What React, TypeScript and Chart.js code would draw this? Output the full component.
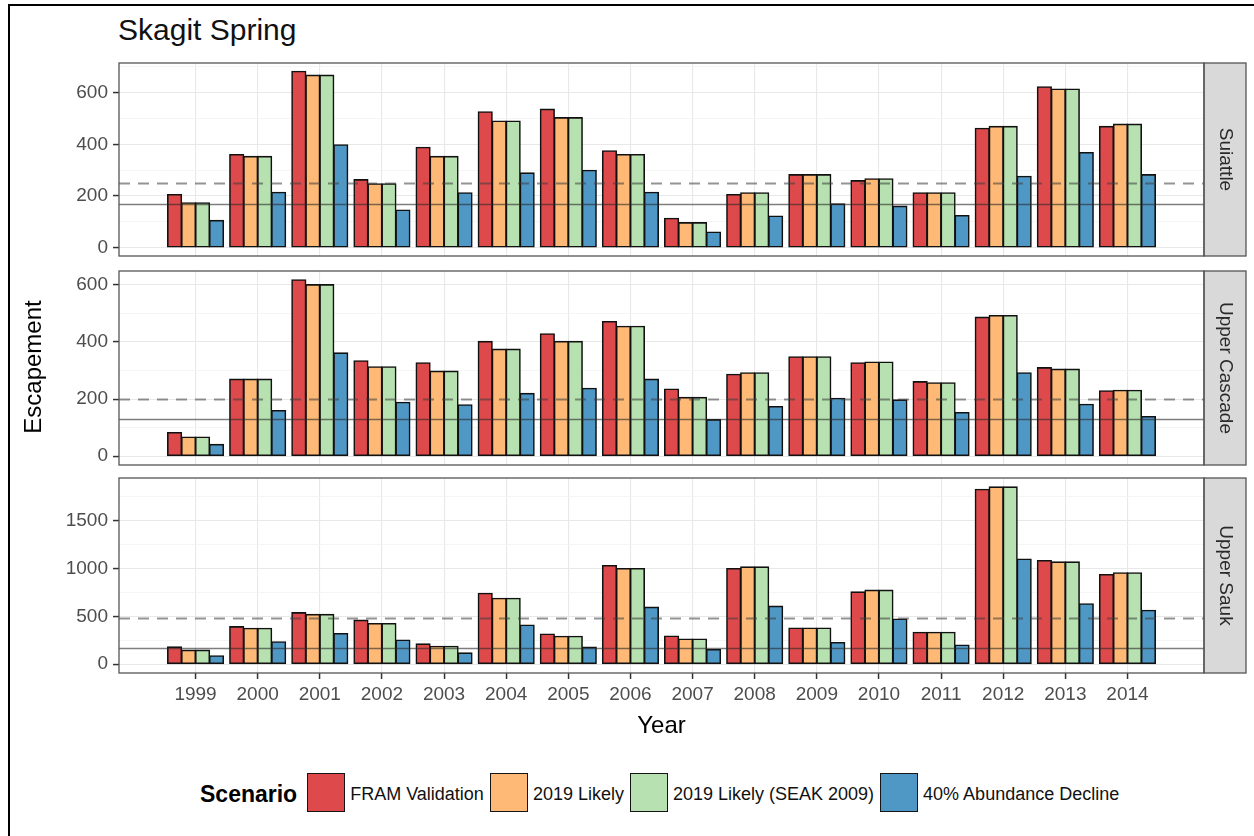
import React, { useEffect, useRef } from 'react';
import { Chart, registerables } from 'chart.js';

Chart.register(...registerables);

const YEARS = [1999, 2000, 2001, 2002, 2003, 2004, 2005, 2006, 2007, 2008, 2009, 2010, 2011, 2012, 2013, 2014];
const SCENARIOS = ['FRAM Validation', '2019 Likely', '2019 Likely (SEAK 2009)', '40% Abundance Decline'];
const COLORS = ['#de4a4c', '#fdb975', '#b7e1b0', '#4f98c6'];
const PANELS = ['Suiattle', 'Upper Cascade', 'Upper Sauk'];

const SUIATTLE_FRAM = [205, 360, 683, 263, 388, 526, 536, 375, 113, 205, 282, 259, 212, 462, 623, 469];
const SUIATTLE_LIKELY = [173, 353, 668, 247, 353, 490, 503, 360, 96, 212, 282, 266, 212, 469, 614, 478];
const SUIATTLE_SEAK = [173, 353, 668, 247, 353, 490, 503, 360, 96, 212, 282, 266, 212, 469, 614, 478];
const SUIATTLE_DECLINE = [105, 214, 398, 145, 212, 289, 299, 214, 60, 122, 169, 160, 124, 276, 368, 282];

const CASCADE_FRAM = [83, 270, 618, 334, 327, 402, 429, 472, 235, 287, 348, 327, 261, 487, 310, 229];
const CASCADE_LIKELY = [67, 270, 601, 313, 298, 375, 402, 455, 206, 292, 348, 330, 257, 493, 305, 231];
const CASCADE_SEAK = [67, 270, 601, 313, 298, 375, 402, 455, 206, 292, 348, 330, 257, 493, 305, 231];
const CASCADE_DECLINE = [41, 160, 362, 189, 180, 220, 238, 270, 128, 174, 203, 197, 153, 292, 182, 139];

const SAUK_FRAM = [180, 392, 538, 460, 211, 741, 315, 1032, 294, 1000, 377, 756, 333, 1830, 1084, 938];
const SAUK_LIKELY = [146, 375, 520, 425, 187, 689, 291, 1000, 263, 1017, 377, 774, 333, 1855, 1070, 956];
const SAUK_SEAK = [146, 375, 520, 425, 187, 689, 291, 1000, 263, 1017, 377, 774, 333, 1855, 1070, 956];
const SAUK_DECLINE = [87, 233, 320, 252, 117, 409, 177, 596, 152, 606, 226, 471, 200, 1099, 631, 564];

const PANEL_SERIES = [
  [SUIATTLE_FRAM, SUIATTLE_LIKELY, SUIATTLE_SEAK, SUIATTLE_DECLINE],
  [CASCADE_FRAM, CASCADE_LIKELY, CASCADE_SEAK, CASCADE_DECLINE],
  [SAUK_FRAM, SAUK_LIKELY, SAUK_SEAK, SAUK_DECLINE],
];

// reference lines per panel
const LOWER_REF = [170, 130, 170];
const UPPER_REF = [250, 200, 485];

// y-axis setup per panel
const Y_MIN = [-33, -31, -93];
const Y_MAX = [715, 649, 1948];
const Y_MAJOR = [200, 200, 500];
const Y_MINOR = [100, 100, 250];

const FONT = '"Liberation Sans", Arial, Helvetica, sans-serif';

// canvas layout per panel (page coordinates)
const LAYOUT = [
  { top: 50, height: 212, padTop: 13, padBottom: 6, xAxis: false },
  { top: 262, height: 208, padTop: 9, padBottom: 5, xAxis: false },
  { top: 470, height: 245, padTop: 8, padBottom: 2, xAxis: true },
];

const CANVAS_W = 1254;
const PLOT_LEFT = 119;
const PLOT_RIGHT = 1204;
const STRIP_W = 42;

function Panel({ index }: { index: number }) {
  const ref = useRef<HTMLCanvasElement | null>(null);
  useEffect(() => {
    const canvas = ref.current;
    if (!canvas) return;
    const lay = LAYOUT[index];
    const major = Y_MAJOR[index];
    const minor = Y_MINOR[index];
    const deco = {
      id: 'panelDeco' + index,
      afterDatasetsDraw(chart: any) {
        const { ctx, chartArea: a, scales } = chart;
        const y = scales.y;
        ctx.save();
        ctx.beginPath();
        ctx.rect(a.left, a.top, a.right - a.left, a.bottom - a.top);
        ctx.clip();
        const ys = Math.round(y.getPixelForValue(LOWER_REF[index])) + 0.5;
        ctx.strokeStyle = 'rgba(40,40,40,0.6)';
        ctx.lineWidth = 1.6;
        ctx.setLineDash([]);
        ctx.beginPath();
        ctx.moveTo(a.left, ys);
        ctx.lineTo(a.right, ys);
        ctx.stroke();
        const yd = Math.round(y.getPixelForValue(UPPER_REF[index])) + 0.5;
        ctx.strokeStyle = 'rgba(60,60,60,0.55)';
        ctx.lineWidth = 2;
        ctx.setLineDash([11, 8]);
        ctx.beginPath();
        ctx.moveTo(a.left, yd);
        ctx.lineTo(a.right, yd);
        ctx.stroke();
        ctx.restore();

        ctx.save();
        // strip
        ctx.fillStyle = '#d9d9d9';
        ctx.fillRect(a.right, a.top, STRIP_W, a.bottom - a.top);
        ctx.strokeStyle = '#555555';
        ctx.lineWidth = 1.3;
        ctx.strokeRect(a.right, a.top, STRIP_W, a.bottom - a.top);
        // panel border
        ctx.strokeRect(a.left, a.top, a.right - a.left, a.bottom - a.top);
        ctx.translate(a.right + STRIP_W / 2, (a.top + a.bottom) / 2);
        ctx.rotate(Math.PI / 2);
        ctx.fillStyle = '#2a2a2a';
        ctx.font = '19px ' + FONT;
        ctx.textAlign = 'center';
        ctx.textBaseline = 'middle';
        ctx.fillText(PANELS[index], 0, 0);
        ctx.restore();
      },
    };

    const chart = new Chart(canvas, {
      type: 'bar',
      data: {
        datasets: PANEL_SERIES[index].map((vals, k) => ({
          label: SCENARIOS[k],
          data: YEARS.map((yr, j) => ({ x: yr, y: vals[j] })),
          backgroundColor: COLORS[k],
          borderColor: '#111111',
          borderWidth: 1.6,
          borderSkipped: false,
          inflateAmount: 0.6,
          categoryPercentage: 0.9,
          barPercentage: 1.0,
        })),
      },
      options: {
        responsive: false,
        animation: false,
        devicePixelRatio: 1,
        layout: {
          padding: { left: 0, right: CANVAS_W - PLOT_RIGHT, top: lay.padTop, bottom: lay.padBottom },
        },
        plugins: {
          legend: { display: false },
          tooltip: { enabled: false },
          title: { display: false },
        },
        scales: {
          x: {
            type: 'linear',
            min: YEARS[0] - 1.232,
            max: YEARS[YEARS.length - 1] + 1.232,
            offset: false,
            afterBuildTicks: (s: any) => {
              s.ticks = YEARS.map((v) => ({ value: v }));
            },
            afterFit: (s: any) => {
              s.height = lay.xAxis ? 40 : 0;
              s.paddingLeft = 0;
              s.paddingRight = 0;
              s.paddingTop = 0;
              s.paddingBottom = 0;
            },
            grid: {
              offset: false,
              color: '#e8e8e8',
              lineWidth: 1.1,
              drawTicks: lay.xAxis,
              tickLength: 6,
              tickColor: '#333333',
              tickWidth: 1.5,
            },
            border: { display: false },
            ticks: {
              display: lay.xAxis,
              autoSkip: false,
              maxRotation: 0,
              padding: 4,
              color: '#4d4d4d',
              font: { size: 19, family: FONT },
              callback: (v: any) => String(v),
            },
          },
          y: {
            type: 'linear',
            min: Y_MIN[index],
            max: Y_MAX[index],
            afterBuildTicks: (s: any) => {
              const t = [];
              for (let v = 0; v <= Y_MAX[index]; v += minor) t.push({ value: v });
              s.ticks = t;
            },
            afterFit: (s: any) => {
              s.width = PLOT_LEFT;
              s.paddingTop = 0;
              s.paddingBottom = 0;
              s.paddingLeft = 0;
              s.paddingRight = 0;
            },
            grid: {
              color: (c: any) => (c.tick && c.tick.value % major === 0 ? '#e8e8e8' : '#f3f3f3'),
              lineWidth: (c: any) => (c.tick && c.tick.value % major === 0 ? 1.1 : 0.8),
              drawTicks: true,
              tickLength: 6,
              tickColor: (c: any) => (c.tick && c.tick.value % major === 0 ? '#333333' : 'rgba(0,0,0,0)'),
              tickWidth: 1.5,
            },
            border: { display: false },
            ticks: {
              autoSkip: false,
              padding: 5,
              color: '#4d4d4d',
              font: { size: 19, family: FONT },
              callback: (v: any) => (v % major === 0 ? String(v) : ''),
            },
          },
        },
      },
      plugins: [deco],
    } as any);
    return () => chart.destroy();
  }, [index]);
  const lay = LAYOUT[index];
  return (
    <canvas
      ref={ref}
      width={CANVAS_W}
      height={lay.height}
      style={{ position: 'absolute', left: 0, top: lay.top, width: CANVAS_W, height: lay.height }}
    />
  );
}

export default function App() {
  return (
    <div
      style={{
        position: 'fixed',
        left: 0,
        top: 0,
        width: 1254,
        height: 836,
        background: '#ffffff',
        overflow: 'hidden',
        fontFamily: FONT,
      }}
    >
      <div
        style={{
          position: 'absolute',
          left: 8,
          top: 4,
          width: 1300,
          height: 900,
          borderLeft: '2px solid #000',
          borderTop: '2px solid #000',
        }}
      />
      <div
        style={{
          position: 'absolute',
          left: 118,
          top: 15,
          fontSize: 30,
          lineHeight: '30px',
          color: '#111',
          whiteSpace: 'nowrap',
        }}
      >
        Skagit Spring
      </div>
      {PANELS.map((_, i) => (
        <Panel key={i} index={i} />
      ))}
      <div
        style={{
          position: 'absolute',
          left: 33 - 120,
          top: 367 - 15,
          width: 240,
          height: 30,
          lineHeight: '30px',
          textAlign: 'center',
          fontSize: 24,
          color: '#000',
          transform: 'rotate(-90deg)',
          whiteSpace: 'nowrap',
        }}
      >
        Escapement
      </div>
      <div
        style={{
          position: 'absolute',
          left: (PLOT_LEFT + PLOT_RIGHT) / 2 - 100,
          top: 710,
          width: 200,
          height: 30,
          lineHeight: '30px',
          textAlign: 'center',
          fontSize: 24,
          color: '#000',
        }}
      >
        Year
      </div>
      <div
        style={{
          position: 'absolute',
          left: 200,
          top: 772,
          height: 40,
          display: 'flex',
          alignItems: 'center',
          whiteSpace: 'nowrap',
        }}
      >
        <span style={{ fontSize: 23, fontWeight: 'bold', color: '#000', marginRight: 10, position: 'relative', top: 2 }}>
          Scenario
        </span>
        {SCENARIOS.map((s, k) => (
          <div key={k} style={{ display: 'flex', alignItems: 'center', marginRight: 6 }}>
            <div
              style={{
                width: 38,
                height: 39,
                boxSizing: 'border-box',
                background: COLORS[k],
                border: '1.5px solid #151515',
                marginRight: 5,
              }}
            />
            <span style={{ fontSize: 18, color: '#111', position: 'relative', top: 2 }}>{s}</span>
          </div>
        ))}
      </div>
    </div>
  );
}
